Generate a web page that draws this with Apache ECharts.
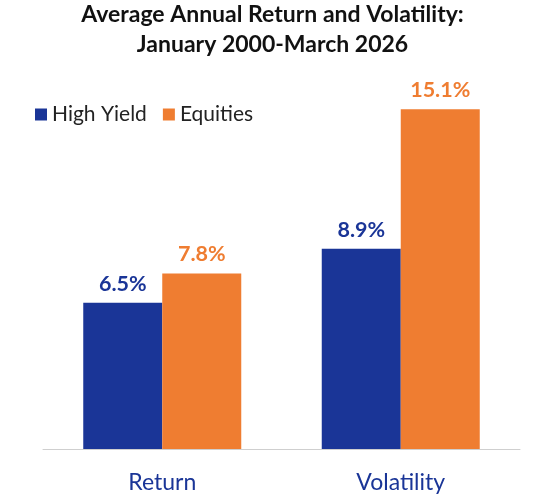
<!DOCTYPE html>
<html style="height: 100%">
<head>
<meta charset="utf-8">
</head>
<body style="height: 100%; margin: 0; background: #fff">
<div id="container" style="width: 545px; height: 504px"></div>
<script type="text/javascript" src="https://cdn.jsdelivr.net/npm/echarts@6/dist/echarts.min.js"></script>
<script type="text/javascript">
var categories = ['Return', 'Volatility'];
var highYield = [6.5, 8.9];
var equities = [7.8, 15.1];

var blue = '#1a3597';
var orange = '#ef7d31';

var myChart = echarts.init(document.getElementById('container'));
var option = {
    backgroundColor: '#fff',
    textStyle: { fontFamily: 'Lato' },
    title: {
        text: 'Average Annual Return and Volatility:\nJanuary 2000-March 2026',
        left: 'center',
        top: 0,
        padding: [0, 5],
        textStyle: { color: '#111', fontSize: 23, fontWeight: 'bold', lineHeight: 30, fontFamily: 'Lato' }
    },
    legend: {
        data: ['High Yield', 'Equities'],
        left: 30,
        top: 99,
        itemWidth: 12,
        itemHeight: 12,
        itemGap: 16,
        icon: 'rect',
        textStyle: { color: '#222', fontSize: 21, fontFamily: 'Lato' }
    },
    grid: { left: 43, right: 25, top: 89, bottom: 55 },
    xAxis: {
        type: 'category',
        data: categories,
        axisLine: { lineStyle: { color: '#cfcfcf', width: 1 } },
        axisTick: { show: false },
        axisLabel: { color: blue, fontSize: 23, margin: 22, fontFamily: 'Lato' }
    },
    yAxis: {
        type: 'value',
        min: 0,
        max: 16,
        show: false,
        splitLine: { show: false }
    },
    series: [{
        name: 'High Yield',
        type: 'bar',
        data: highYield,
        barWidth: 79,
        barGap: '0%',
        itemStyle: { color: blue },
        label: {
            show: true, position: 'top', distance: 8,
            formatter: '{c}%', color: blue, fontSize: 21.5, fontWeight: 'bold'
        }
    }, {
        name: 'Equities',
        type: 'bar',
        data: equities,
        barWidth: 79,
        itemStyle: { color: orange },
        label: {
            show: true, position: 'top', distance: 8,
            formatter: '{c}%', color: orange, fontSize: 21.5, fontWeight: 'bold'
        }
    }],
    animation: false
};
myChart.setOption(option);
</script>
</body>
</html>
